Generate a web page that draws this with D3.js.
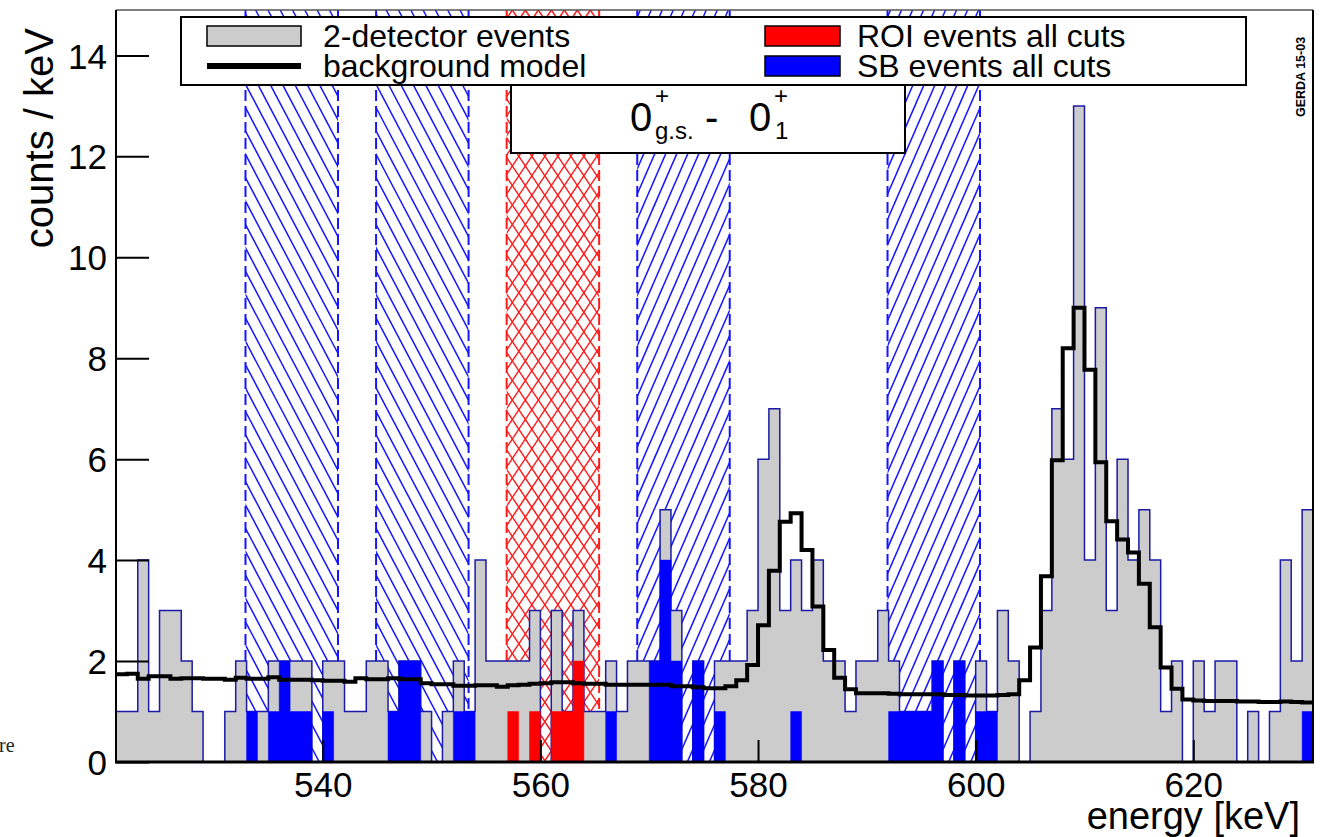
<!DOCTYPE html>
<html><head><meta charset="utf-8">
<script src="https://cdn.jsdelivr.net/npm/d3@7/dist/d3.min.js"></script>
<style>
body{margin:0;background:#fff;}
text{font-family:"Liberation Sans",Arial,Helvetica,sans-serif;}
</style>
</head><body>
<svg id="c" width="1326" height="837"></svg>
<script>
// ---------- data (1 keV bins starting at 521 keV) ----------
const binStart = 521;
const binWidth = 1;
const counts = [
 1,1,4,1,3,3,2,1,0,0,
 1,2,1,1,2,2,2,2,0,2,
 2,1,1,2,2,1,2,2,1,0,
 1,2,1,4,2,2,2,2,3,0,
 3,1,3,1,1,2,1,2,2,2,
 5,3,0,2,0,2,2,2,3,6,
 7,3,4,3,4,2,2,1,2,2,
 3,2,1,1,1,2,0,2,0,2,
 1,3,2,0,1,3,7,6,13,4,
 9,3,6,4,5,4,1,2,0,2,
 1,2,2,0,1,0,1,4,2,5];
const roiCounts = [
 0,0,0,0,0,0,0,0,0,0,
 0,0,0,0,0,0,0,0,0,0,
 0,0,0,0,0,0,0,0,0,0,
 0,0,0,0,0,0,1,0,1,0,
 1,1,2,0,0,0,0,0,0,0,
 0,0,0,0,0,0,0,0,0,0,
 0,0,0,0,0,0,0,0,0,0,
 0,0,0,0,0,0,0,0,0,0,
 0,0,0,0,0,0,0,0,0,0,
 0,0,0,0,0,0,0,0,0,0,
 0,0,0,0,0,0,0,0,0,0];
const sbCounts = [
 0,0,0,0,0,0,0,0,0,0,
 0,0,1,0,1,2,1,1,0,1,
 0,0,0,0,0,1,2,2,0,0,
 0,1,1,0,0,0,0,0,0,0,
 0,0,0,0,0,1,0,0,0,2,
 4,2,0,2,0,1,0,0,0,0,
 0,0,1,0,0,0,0,0,0,0,
 0,1,1,1,1,2,0,2,0,1,
 1,0,0,0,0,0,0,0,0,0,
 0,0,0,0,0,0,0,0,0,0,
 0,0,0,0,0,0,0,0,0,1];
const bgModel = [
 1.74,1.75,1.65,1.70,1.70,1.65,1.66,1.66,1.65,1.65,
 1.63,1.67,1.65,1.65,1.68,1.63,1.63,1.63,1.62,1.61,
 1.61,1.59,1.66,1.64,1.64,1.66,1.64,1.64,1.56,1.54,
 1.54,1.51,1.51,1.52,1.52,1.49,1.52,1.53,1.55,1.56,
 1.58,1.58,1.56,1.55,1.55,1.53,1.53,1.53,1.53,1.53,
 1.53,1.50,1.50,1.48,1.46,1.46,1.50,1.62,1.92,2.71,
 3.79,4.76,4.93,4.20,3.08,2.22,1.67,1.44,1.36,1.36,
 1.36,1.35,1.34,1.34,1.34,1.34,1.33,1.33,1.32,1.32,
 1.32,1.33,1.34,1.62,2.27,3.68,5.98,8.20,9.00,7.77,
 5.94,4.77,4.41,4.15,3.53,2.67,1.87,1.45,1.24,1.22,
 1.21,1.21,1.21,1.20,1.20,1.19,1.19,1.20,1.19,1.18];
const sideBands = [[532.9,541.4,"back"],[544.9,553.4,"back"],[568.9,577.4,"fwd"],[591.9,600.4,"fwd"]];
const roiBand = [556.9,565.4];
const xRange = [521,631];
const yRange = [0,14.9];
const xMajorTicks = [540,560,580,600,620];
const xMinorTicks = d3.range(525,631,5);
const yMajorTicks = [0,2,4,6,8,10,12,14];
const yMinorTicks = d3.range(0,15,1);
const legendLeft = [{label:"2-detector events",type:"box",fill:"#cccccc"},{label:"background model",type:"line"}];
const legendRight = [{label:"ROI events all cuts",fill:"#ff0000"},{label:"SB events all cuts",fill:"#0000ff"}];

// ---------- layout ----------
const F = {l:116, r:1313, t:10, b:762};
const svg = d3.select("#c");
const x = d3.scaleLinear().domain(xRange).range([F.l,F.r]);
const y = d3.scaleLinear().domain(yRange).range([F.b,F.t]);

svg.append("rect").attr("width",1326).attr("height",837).attr("fill","#fff");

const defs = svg.append("defs");
let clipId = 0;
function hatchBand(x0v,x1v,dirs,color,slope,spacing){
  const x0=x(x0v), x1=x(x1v), Hh=F.b-F.t, run=Hh/slope;
  const id="clip"+(clipId++);
  defs.append("clipPath").attr("id",id).append("rect")
    .attr("x",x0).attr("y",F.t).attr("width",x1-x0).attr("height",Hh);
  const g = svg.append("g").attr("clip-path",`url(#${id})`);
  dirs.forEach(dir=>{
    for(let xk=x0-run-spacing; xk<=x1+run+spacing; xk+=spacing){
      g.append("line").attr("x1",xk).attr("y1",F.t)
        .attr("x2",xk+dir*run).attr("y2",F.b)
        .attr("stroke",color).attr("stroke-width",1.5);
    }
  });
  [x0,x1].forEach(xx=>{
    svg.append("line").attr("x1",xx).attr("x2",xx).attr("y1",F.t).attr("y2",F.b)
      .attr("stroke",color).attr("stroke-width",2).attr("stroke-dasharray","11,5");
  });
}
sideBands.forEach(b=>{
  if(b[2]==="back") hatchBand(b[0],b[1],[1],"#1515ff",1.9,12.3);
  else hatchBand(b[0],b[1],[-1],"#1515ff",2.3,11);
});
hatchBand(roiBand[0],roiBand[1],[1,-1],"#ff1a1a",1.5,13);

// ---------- histograms ----------
function stepArea(vals){
  let p=`M${x(binStart)},${y(0)}`;
  vals.forEach((v,i)=>{ p+=`V${y(v)}H${x(binStart+(i+1)*binWidth)}`; });
  return p+`V${y(0)}Z`;
}
function stepLine(vals){
  let p=`M${x(binStart)},${y(vals[0])}`;
  vals.forEach((v,i)=>{ p+=`V${y(v)}H${x(binStart+(i+1)*binWidth)}`; });
  return p;
}
svg.append("path").attr("d",stepArea(counts)).attr("fill","#cccccc")
  .attr("stroke","#1a1aa6").attr("stroke-width",1.5);
svg.append("path").attr("d",stepArea(sbCounts)).attr("fill","#0000ff").attr("stroke","#0000ff").attr("stroke-width",0.5);
svg.append("path").attr("d",stepArea(roiCounts)).attr("fill","#ff0000").attr("stroke","#ff0000").attr("stroke-width",0.5);
svg.append("path").attr("d",stepLine(bgModel)).attr("fill","none")
  .attr("stroke","#000").attr("stroke-width",4).attr("stroke-linejoin","miter");

// ---------- axes ----------
const gx = svg.append("g").attr("transform",`translate(0,${F.b})`);
gx.call(d3.axisBottom(x).tickValues(xMinorTicks).tickSize(-11).tickFormat(""));
gx.call(d3.axisBottom(x).tickValues(xMajorTicks).tickSize(-22).tickFormat(d3.format("d")));
gx.select(".domain").remove();
gx.selectAll("line").attr("stroke","#000").attr("stroke-width",2);
gx.selectAll("text").attr("y",35).attr("dy",0).attr("font-size",35).attr("fill","#000")
  .style("font-family","'Liberation Sans',Arial,sans-serif");

const gy = svg.append("g").attr("transform",`translate(${F.l},0)`);
gy.call(d3.axisLeft(y).tickValues(yMinorTicks).tickSize(-17).tickFormat(""));
gy.call(d3.axisLeft(y).tickValues(yMajorTicks).tickSize(-33).tickPadding(9).tickFormat(d3.format("d")));
gy.select(".domain").remove();
gy.selectAll("line").attr("stroke","#000").attr("stroke-width",2);
gy.selectAll("text").attr("font-size",35).attr("dy","0.36em").attr("fill","#000")
  .style("font-family","'Liberation Sans',Arial,sans-serif");

// frame
svg.append("line").attr("x1",F.l).attr("x2",F.r).attr("y1",F.t).attr("y2",F.t).attr("stroke","#555").attr("stroke-width",1.5);
svg.append("line").attr("x1",F.r).attr("x2",F.r).attr("y1",F.t).attr("y2",F.b).attr("stroke","#000").attr("stroke-width",2);
svg.append("line").attr("x1",F.l).attr("x2",F.l).attr("y1",F.t).attr("y2",F.b).attr("stroke","#000").attr("stroke-width",2);
svg.append("line").attr("x1",F.l-1).attr("x2",F.r+1).attr("y1",F.b).attr("y2",F.b).attr("stroke","#000").attr("stroke-width",3);

// axis titles
svg.append("text").attr("x",1300).attr("y",829).attr("text-anchor","end")
  .attr("font-size",38).text("energy [keV]");
svg.append("text").attr("transform","translate(53,28) rotate(-90)").attr("text-anchor","end")
  .attr("font-size",40).text("counts / keV");

// ---------- text box ----------
svg.append("rect").attr("x",511).attr("y",85).attr("width",394).attr("height",68)
  .attr("fill","#fff").attr("stroke","#000").attr("stroke-width",2);
const tb = svg.append("g");
tb.append("text").attr("x",630).attr("y",131).attr("font-size",40).text("0");
tb.append("text").attr("x",655).attr("y",104).attr("font-size",24).text("+");
tb.append("text").attr("x",655).attr("y",139).attr("font-size",24).text("g.s.");
tb.append("text").attr("x",705).attr("y",131).attr("font-size",40).text("-");
tb.append("text").attr("x",749).attr("y",131).attr("font-size",40).text("0");
tb.append("text").attr("x",774).attr("y",104).attr("font-size",24).text("+");
tb.append("text").attr("x",775).attr("y",139).attr("font-size",24).text("1");

// ---------- legend ----------
svg.append("rect").attr("x",181).attr("y",17).attr("width",1065).attr("height",68)
  .attr("fill","#fff").attr("stroke","#000").attr("stroke-width",2);
legendLeft.forEach((d,i)=>{
  const yy = 36 + i*30;
  if(d.type==="box") svg.append("rect").attr("x",207).attr("y",yy-10).attr("width",94).attr("height",20)
      .attr("fill",d.fill).attr("stroke","#000").attr("stroke-width",1.5);
  else svg.append("line").attr("x1",207).attr("x2",301).attr("y1",yy).attr("y2",yy)
      .attr("stroke","#000").attr("stroke-width",6);
  svg.append("text").attr("x",323).attr("y",yy+11).attr("font-size",32).text(d.label);
});
legendRight.forEach((d,i)=>{
  const yy = 36 + i*30;
  svg.append("rect").attr("x",765).attr("y",yy-10).attr("width",75).attr("height",20)
    .attr("fill",d.fill).attr("stroke","#000").attr("stroke-width",1.5);
  svg.append("text").attr("x",857).attr("y",yy+11).attr("font-size",32).text(d.label);
});

// stamp
svg.append("text").attr("transform","translate(1305,117) rotate(-90)")
  .attr("font-size",12.5).attr("font-weight","bold").text("GERDA 15-03");
// stray fragment at left margin
svg.append("text").attr("x",-1).attr("y",752).attr("font-size",20)
  .style("font-family","'Liberation Serif','DejaVu Serif',serif").attr("fill","#222").text("re");
</script>
</body></html>
